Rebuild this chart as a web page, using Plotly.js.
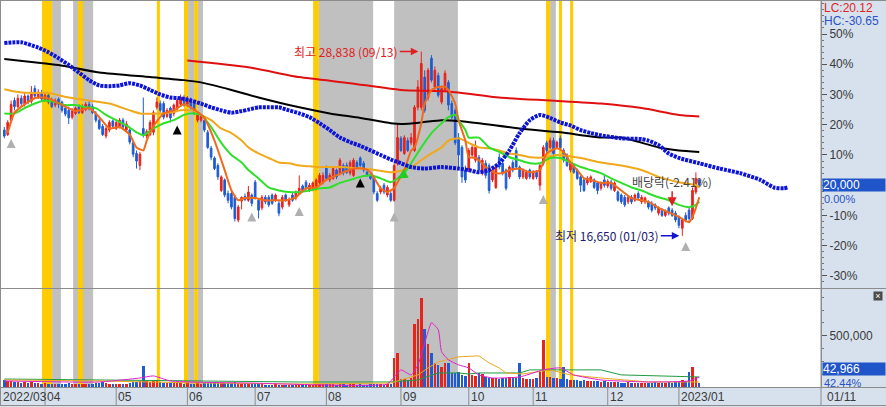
<!DOCTYPE html>
<html><head><meta charset="utf-8">
<script src="https://cdn.plot.ly/plotly-3.0.1.min.js"></script>
<style>html,body{margin:0;padding:0;background:#fff;}#chart{width:886px;height:407px;}</style>
</head><body><div id="chart"></div>
<script>
// ---- daily candles (index = trading day, 2022/03/16 .. 2023/01/10) ----
const openP = [
23650,23350,24300,25600,25200,25750,25350,25900,25550,26400,25800,26100,
25600,25950,25550,25300,25700,25500,25100,24950,24500,24750,25200,24800,25000,25350,25200,24750,24300,23900,23250,23650,24250,
23750,23900,24300,23650,23650,22800,22100,21300,23750,23250,23350,23500,25150,25400,25400,24550,25100,24750,25100,25350,25800,
25350,25700,25400,24300,24300,24300,23500,22450,21800,21300,19650,20350,19450,19450,19200,17700,18950,19250,19000,19350,
20200,19000,18500,19200,19200,19350,19000,18800,18550,19350,18700,19350,19150,19450,19950,20200,19650,19750,19800,20150,20200,
21200,20350,20450,21000,20800,21300,21300,20800,20650,21500,21800,21450,20850,20650,20550,19450,19550,20000,19350,19450,19000,21450,
23100,22100,22950,22800,22300,25150,25150,27150,25800,28400,26500,27250,25500,26300,26800,25400,24950,23150,22500,21000,
21000,22000,21650,21850,20800,21450,21300,20350,19850,21850,21450,21000,20550,21500,22300,21200,20550,20450,21000,
20450,20850,20000,21450,22800,22500,22950,22500,23100,22300,22000,21000,21300,21000,20550,20350,20150,20250,20350,20150,19800,20350,
19950,20200,19650,19550,19350,19200,18900,19200,19000,19450,18900,18900,18900,18800,18700,18150,18350,18000,18500,18350,18150,
17900,17150,18000,18350,17800,19550,20350];
const highP = [
23850,24300,25600,25800,26000,25950,26150,26000,26550,26600,26350,26300,
26100,26100,25800,25750,25800,25600,25300,25200,25100,25200,25350,25350,25500,25550,25350,24900,24450,24050,23900,24300,24350,
24300,24450,24450,24250,23750,22900,22300,22200,25800,23700,24300,24950,25800,25600,25550,25100,25200,25400,25750,26000,25950,
25900,25800,25600,24750,24700,24450,23650,22600,21900,21450,20650,20450,19650,19600,19350,18700,19250,19450,19950,19450,
20350,19150,19350,19350,19350,19450,19450,18950,19350,19450,19200,19550,19650,20650,20050,20350,20150,20250,20450,20800,20850,
21300,20800,21250,21100,21800,21450,21500,21650,21800,21650,21900,21600,21000,20800,20650,19600,19950,20150,20000,19600,21450,24100,
23250,23300,23150,23450,25300,26950,28838,27600,27750,28600,27850,27450,26600,27600,26950,25600,25100,23450,22650,21300,
22450,22650,22950,22000,21800,21650,21450,21100,21300,22100,21600,21100,21300,21650,22500,21300,21100,21000,21100,
21000,21000,21450,22650,22950,23150,23150,22950,23300,22450,22100,21600,21450,21100,20650,20450,20600,20650,20450,20250,20250,20650,
20400,20350,20250,19650,19450,19350,19350,19350,19450,19600,19350,19250,19000,18950,18800,18600,18500,18400,18600,18500,18300,
18000,17800,18200,18500,19850,20850,20450];
const lowP = [
23100,23250,24150,24950,25100,25200,25200,25350,25400,25750,25700,25550,
25500,25350,25100,25150,25100,24800,24550,24050,24350,24650,24700,24700,24900,24950,24700,24150,23650,23250,23100,23500,23750,
23650,23750,23700,23500,22700,21850,21100,21000,23150,23100,23250,23300,25000,24800,24350,24450,24150,24550,24950,25200,25200,
25200,25000,24650,24150,24150,23500,22400,21650,21000,20350,19550,19200,18800,18400,17600,17550,18400,18950,18900,18600,
19050,17800,18350,18750,18550,18700,18900,17950,18400,18900,18550,18900,19000,19350,19550,19650,19550,19600,19650,20000,20050,
20350,20200,20350,20400,20650,20650,20750,20650,20550,21050,21200,20850,20550,20350,19400,18900,19400,19400,19200,18900,18900,21300,
22200,22000,22200,22650,22200,24950,24950,24800,25600,26800,26300,25800,25350,26150,24950,24350,22650,21000,20150,20150,
20850,21850,21500,20850,20650,20450,19450,20200,19750,21050,20650,19650,20400,20850,21050,20400,20400,20350,20400,
20350,20400,19650,21300,22100,22400,21850,22400,22400,21500,21200,20850,20750,20350,19550,19550,20000,20150,19750,19400,19650,19850,
19800,19650,19550,18900,18750,18550,18750,18750,18900,19000,18750,18750,18400,18200,18350,18000,17900,17900,18000,17900,17550,
17150,16650,17550,17550,17700,19400,19850];
const closeP = [
23250,24150,25350,25200,25750,25400,25900,25550,26150,25900,26150,25700,
25950,25500,25200,25600,25350,24950,24700,24450,24900,25100,24800,25200,25350,25100,24800,24300,23750,23350,23750,24150,23900,
24150,24300,23850,24050,22850,22050,21600,22050,23350,23550,24150,24800,25500,24950,24500,24950,24450,25300,25600,25800,25350,
25700,25200,24750,24650,24550,23650,22500,21850,21100,20550,20550,19350,19000,18550,17800,18550,19200,19050,19550,18800,
19200,18350,19200,18900,18700,18800,19350,18150,19200,19000,19000,19000,19550,19800,19650,19800,20000,20150,20350,20650,20650,
20450,20650,21100,20550,21650,20800,20850,21500,21650,21200,21300,21000,20650,20450,19550,19000,19800,19550,19850,19000,21300,23150,
22300,23150,22300,23150,25150,26500,28050,24950,27600,26950,27600,25950,26400,27400,25300,24500,22800,22000,20550,20350,
22300,22500,22500,21000,21650,20650,19650,21000,21200,21200,20800,19800,21200,21000,21200,20550,21000,20850,20550,
20850,20550,21300,22500,22300,22950,22100,22850,22500,21650,21300,21450,20850,20450,20000,19650,20450,20550,19850,19650,20150,20000,
20250,19800,20150,19000,18900,18700,19200,18900,19350,19150,19200,19150,18550,18350,18500,18500,18000,18300,18150,18000,17700,
17350,17700,17700,17800,19650,20450,20000];
// volume in thousand shares
const volumeK = [
70,55,60,45,50,40,45,35,50,40,35,30,
35,30,28,32,30,25,30,35,28,25,30,25,30,28,30,35,40,45,35,30,28,
30,28,25,30,40,45,50,60,205,60,50,55,65,45,40,35,40,35,45,40,30,
35,30,30,35,30,35,40,40,45,40,35,40,35,40,45,35,30,28,25,25,
25,28,25,22,20,22,25,20,22,20,20,22,25,30,22,20,20,22,25,28,25,
30,25,28,22,30,25,22,25,28,22,25,22,20,25,30,28,25,22,25,30,284,333,
80,75,70,85,617,666,872,568,421,333,235,215,196,235,235,137,140,150,120,110,
235,120,110,137,130,100,90,88,85,80,85,90,95,100,90,235,85,80,75,
80,85,150,461,100,95,90,85,80,196,75,70,65,70,60,65,60,55,60,55,50,55,
50,48,45,45,42,40,45,40,38,40,42,38,35,40,45,42,40,38,45,40,50,
60,70,60,147,196,101,42.966];

// ---- month labels ----
const monthStart = [0,12,33,54,74,95,117,137,156,178,199];
const monthLabels = ['2022/03','04','05','06','07','08','09','10','11','12','2023/01'];
const basePrice = 20000;
const priceTickVals = [30000,28000,26000,24000,22000,18000,16000,14000];
const priceTickText = ['50%','40%','30%','20%','10%','-10%','-20%','-30%'];

// ---- moving averages: [day index, price] ----
const ma5 = [[1,23450],[3,24800],[6,25350],[9,25750],[12,25800],[15,25550],[18,25200],[21,24900],[25,25100],[28,24500],[31,23750],[34,23850],[37,23350],[39,22500],[41,22300],[42,22950],[44,23900],[47,24750],[50,24950],[53,25350],[56,25000],[59,24450],[62,22950],[65,21000],[67,19650],[69,19000],[71,19150],[74,19150],[77,19000],[80,19000],[83,19000],[86,19200],[89,19800],[92,19850],[95,20350],[98,20650],[100,20850],[103,21100],[106,21100],[108,20850],[111,19800],[113,19550],[115,19800],[116,20200],[118,21000],[120,22300],[121,22500],[123,24100],[124,25400],[126,26300],[128,26500],[130,26500],[131,26300],[133,25400],[134,24300],[136,22950],[137,21850],[139,21800],[140,21650],[142,21200],[145,20800],[147,20800],[149,21000],[152,21100],[155,20850],[158,21000],[160,22100],[163,22450],[165,22200],[167,21500],[169,21000],[171,20450],[173,20350],[176,20150],[179,20150],[182,19650],[185,19150],[188,19000],[190,18900],[193,18500],[196,18200],[199,17900],[202,17550],[203,17900],[204,18500],[205,19200]];
const ma20 = [[0,24750],[3,24750],[6,25100],[9,25400],[12,25600],[15,25500],[18,25300],[21,25300],[24,25150],[27,25100],[30,24650],[33,24300],[36,23950],[39,23500],[41,23300],[44,23750],[47,24100],[50,24300],[53,24650],[56,24750],[58,24650],[61,23850],[64,22800],[67,22000],[70,21500],[72,21000],[75,20450],[78,19850],[81,19650],[84,19550],[87,19550],[90,19650],[93,19800],[96,19850],[99,20150],[102,20350],[105,20550],[108,20650],[111,20450],[114,20200],[116,20450],[118,20800],[120,21450],[123,22500],[126,23450],[129,24100],[131,24500],[133,24650],[134,24300],[136,23650],[137,23150],[140,23150],[143,22500],[146,22200],[149,21850],[152,21650],[155,21450],[158,21450],[161,21800],[164,21800],[167,21500],[170,21200],[173,21000],[176,20800],[179,20450],[182,20150],[185,19850],[188,19650],[190,19450],[193,19200],[196,19000],[199,18700],[202,18550],[204,18700],[205,18900]];
const ma60 = [[0,26350],[3,26200],[8,26100],[13,26100],[19,25800],[25,25600],[31,25400],[37,24950],[40,24750],[46,24750],[49,24800],[52,24950],[55,24950],[58,24650],[61,24300],[64,23750],[67,23450],[70,22950],[72,22500],[75,22100],[78,21800],[81,21500],[84,21450],[87,21300],[90,21250],[93,21200],[99,21200],[105,21100],[108,21050],[111,20950],[114,20850],[117,20950],[120,21200],[123,21650],[126,22100],[129,22500],[131,22950],[134,23100],[137,22800],[140,22500],[143,22450],[146,22300],[149,22100],[152,22000],[155,21850],[160,21850],[163,22000],[170,21800],[176,21500],[182,21300],[188,21000],[193,20550],[199,20200],[204,20000],[205,19850]];
const ma120 = [[0,28350],[8,28150],[16,27950],[28,27450],[43,27150],[53,26950],[58,26800],[67,26300],[75,25800],[87,25150],[96,24750],[105,24450],[114,24100],[117,24050],[123,24150],[129,24300],[134,24250],[140,24100],[152,23750],[164,23500],[176,23150],[182,23150],[193,22500],[199,22300],[205,22200]];
const ma240 = [[54,28250],[72,27800],[87,27150],[102,26750],[117,26300],[131,26200],[146,25800],[161,25600],[176,25400],[188,25100],[199,24650],[205,24550]];
const leadLine = [[0,29400],[5,29450],[10,29100],[13,28800],[16,28400],[19,27950],[22,27450],[25,26950],[28,26600],[31,26550],[34,26600],[37,26750],[40,26600],[43,26300],[46,26000],[49,25800],[52,25750],[55,25600],[58,25400],[61,25150],[64,24950],[67,24800],[70,24900],[72,25000],[75,25150],[78,25150],[81,25150],[84,24950],[87,24750],[90,24500],[93,24100],[96,23650],[99,23150],[102,22850],[105,22600],[108,22300],[111,22000],[114,21700],[117,21450],[120,21200],[124,21100],[129,21200],[134,21100],[137,21000],[140,20850],[143,21000],[146,21450],[149,22300],[152,23450],[155,24300],[158,24650],[161,24450],[164,24150],[167,23950],[170,23650],[173,23450],[176,23300],[182,23100],[188,23050],[190,22950],[193,22650],[196,22100],[199,21800],[205,21450],[211,21100],[217,20800],[223,20350],[227,19850],[230,19800],[231,19850]];

// ---- volume moving averages: [day index, thousand shares] ----
const volMa5 = [[0,59],[28,49],[40,88],[44,108],[49,59],[72,39],[113,29],[115,98],[117,167],[120,118],[122,216],[125,539],[126,627],[128,559],[129,343],[131,265],[134,216],[137,186],[140,118],[144,88],[152,98],[159,167],[164,186],[168,118],[176,69],[190,49],[202,59],[205,98]];
const volMa20 = [[0,69],[28,59],[58,39],[87,29],[114,39],[122,118],[125,186],[128,245],[134,294],[140,304],[143,235],[146,186],[148,137],[153,127],[161,167],[167,118],[176,88],[190,49],[205,49]];
const volMa60 = [[0,78],[28,69],[58,59],[87,49],[114,49],[122,69],[128,137],[134,137],[137,127],[140,137],[152,137],[155,167],[176,167],[182,118],[205,98]];

// ---- highlighted periods [from day, to day] ----
const grayBands = [[14.1,16.7],[20.3,26.2],[54.2,56.0],[57.1,58.6],[92.8,108.8],[115.0,133.8],[161.0,162.7]];
const yellowBands = [[11.1,14.1],[21.7,23.2],[45.0,45.9],[53.0,54.2],[56.0,57.1],[91.1,92.8],[159.8,161.0],[163.6,164.5],[166.9,167.8]];

// ---- signal arrows [day index, price] ----
const sigGray = [[2,23050],[73,18200],[87,18550],[115,18200],[159,19350],[201,16250]];
const sigBlack = [[51,23950],[105,20450]];
const sigGreen = [[116,20450]];

const dayIdx = openP.map((_, i) => i);
const col = (a, k) => a.map(p => p[k]);
const RED = '#e8231a', BLUE = '#1f5cd2';
const F = 'Liberation Sans, Arial, sans-serif';
const KF = 'Noto Sans CJK KR, sans-serif';

const traces = [
  {type:'candlestick', x:dayIdx, open:openP, high:highP, low:lowP, close:closeP,
   increasing:{line:{color:RED,width:1}, fillcolor:RED},
   decreasing:{line:{color:BLUE,width:1}, fillcolor:BLUE},
   xaxis:'x', yaxis:'y'},
  {type:'scatter', mode:'lines', x:col(ma240,0), y:col(ma240,1), line:{color:'#e01010', width:2, shape:'spline', smoothing:0.6}},
  {type:'scatter', mode:'lines', x:col(ma120,0), y:col(ma120,1), line:{color:'#000000', width:2, shape:'spline', smoothing:0.6}},
  {type:'scatter', mode:'lines', x:col(ma60,0), y:col(ma60,1), line:{color:'#f0a81c', width:2, shape:'spline', smoothing:0.6}},
  {type:'scatter', mode:'lines', x:col(ma20,0), y:col(ma20,1), line:{color:'#2ee02a', width:2, shape:'spline', smoothing:0.6}},
  {type:'scatter', mode:'lines', x:col(ma5,0), y:col(ma5,1), line:{color:'#f06a1c', width:2, shape:'spline', smoothing:0.5}},
  {type:'scatter', mode:'lines', x:col(leadLine,0), y:col(leadLine,1), line:{color:'#0c14d8', width:4, dash:'3px,1px', shape:'spline', smoothing:0.6}},
  {type:'scatter', mode:'markers', x:col(sigGray,0), y:col(sigGray,1), marker:{symbol:'arrow-up', size:9, color:'#b0b0b0'}},
  {type:'scatter', mode:'markers', x:col(sigBlack,0), y:col(sigBlack,1), marker:{symbol:'arrow-up', size:9, color:'#000'}},
  {type:'scatter', mode:'markers', x:col(sigGreen,0), y:col(sigGreen,1), marker:{symbol:'arrow-up', size:10, color:'#22cc22', angle:-120}},
  {type:'bar', x:dayIdx, y:volumeK, width:0.72, xaxis:'x', yaxis:'y2',
   marker:{color:closeP.map((c,i) => c >= openP[i] ? RED : BLUE), line:{width:0}}},
  {type:'scatter', mode:'lines', x:col(volMa60,0), y:col(volMa60,1), yaxis:'y2', line:{color:'#1f9a40', width:1}},
  {type:'scatter', mode:'lines', x:col(volMa20,0), y:col(volMa20,1), yaxis:'y2', line:{color:'#e8a820', width:1}},
  {type:'scatter', mode:'lines', x:col(volMa5,0), y:col(volMa5,1), yaxis:'y2', line:{color:'#e020c8', width:1, shape:'spline', smoothing:0.5}}
];
traces.forEach(t => { t.showlegend = false; t.hoverinfo = 'skip'; });

const PH = 387, PW = 821;
const py = p => (PH - p) / PH;       // pixel row -> paper y
const priceDom = [py(288), 1];
const volDom = [0, py(288.5)];

const shapes = [];
grayBands.forEach(b => shapes.push({type:'rect', xref:'x', yref:'paper', x0:b[0], x1:b[1], y0:0, y1:1, fillcolor:'#c0c0c0', line:{width:0}, layer:'below'}));
yellowBands.forEach(b => shapes.push({type:'rect', xref:'x', yref:'paper', x0:b[0], x1:b[1], y0:0, y1:1, fillcolor:'#ffcc00', line:{width:0}, layer:'below'}));
const GL = '#8c8c8c';
shapes.push({type:'line', xref:'paper', yref:'paper', x0:0, x1:886/PW, y0:py(288.5), y1:py(288.5), line:{color:GL, width:1}});
shapes.push({type:'line', xref:'paper', yref:'paper', x0:0, x1:886/PW, y0:py(387.5), y1:py(387.5), line:{color:GL, width:1}});
shapes.push({type:'line', xref:'paper', yref:'paper', x0:0, x1:886/PW, y0:py(405.5), y1:py(405.5), line:{color:GL, width:1}});
shapes.push({type:'line', xref:'paper', yref:'paper', x0:0, x1:886/PW, y0:py(0.5), y1:py(0.5), line:{color:GL, width:1}});
shapes.push({type:'line', xref:'paper', yref:'paper', x0:0.5/PW, x1:0.5/PW, y0:py(405.5), y1:1, line:{color:GL, width:1}});
shapes.push({type:'line', xref:'paper', yref:'paper', x0:1, x1:1, y0:py(405.5), y1:1, line:{color:GL, width:1}});
monthStart.forEach((m, i) => { if (i > 0) shapes.push({type:'line', xref:'x', yref:'paper', x0:m, x1:m, y0:py(405.5), y1:py(387.5), line:{color:GL, width:1}}); });

const TXT = '#3a3a3a';
const annotations = [];
monthStart.forEach((m, i) => annotations.push({
  xref: i === 0 ? 'paper' : 'x', x: i === 0 ? 0 : m, yref:'paper', y:py(397), xanchor:'left', yanchor:'middle',
  xshift: i === 0 ? 1 : 0, text:monthLabels[i], showarrow:false, font:{family:F, size:12, color:TXT}}));
annotations.push({xref:'paper', x:1, yref:'paper', y:py(397), xanchor:'left', yanchor:'middle', xshift:4, text:'01/11', showarrow:false, font:{family:F, size:12, color:TXT}});
annotations.push({xref:'paper', x:1, yref:'paper', y:1, xanchor:'left', yanchor:'top', xshift:1, yshift:1, text:'LC:20.12', showarrow:false, font:{family:F, size:12, color:'#e02424'}});
annotations.push({xref:'paper', x:1, yref:'paper', y:1, xanchor:'left', yanchor:'top', xshift:1, yshift:-12, text:'HC:-30.65', showarrow:false, font:{family:F, size:12, color:'#2a52c4'}});
annotations.push({xref:'paper', x:1, yref:'y', y:basePrice, xanchor:'left', yanchor:'middle', xshift:1, text:'20,000', showarrow:false, width:62, height:12, align:'left', bgcolor:'#1f55c9', borderpad:0, font:{family:F, size:12, color:'#ffffff'}});
annotations.push({xref:'paper', x:1, yref:'y', y:basePrice, xanchor:'left', yanchor:'middle', xshift:2, yshift:-14, text:'0.00%', showarrow:false, borderpad:0, font:{family:F, size:11, color:'#2a52c4'}});
annotations.push({xref:'paper', x:1, yref:'paper', y:py(368.5), xanchor:'left', yanchor:'middle', xshift:1, text:'42,966', showarrow:false, width:62, height:12, align:'left', bgcolor:'#1f55c9', borderpad:0, font:{family:F, size:12, color:'#ffffff'}});
annotations.push({xref:'paper', x:1, yref:'paper', y:py(382.5), xanchor:'left', yanchor:'middle', xshift:2, text:'42.44%', showarrow:false, borderpad:0, font:{family:F, size:11, color:'#2a52c4'}});
annotations.push({xref:'paper', x:878/PW, yref:'paper', y:py(296), xanchor:'center', yanchor:'middle', text:'×', showarrow:false, width:8, height:8, bgcolor:'#4a4a4a', borderpad:0, font:{family:F, size:9, color:'#ffffff'}});
annotations.push({x:123, y:28838, xref:'x', yref:'y', text:'최고 28,838 (09/13)', showarrow:true, ax:-75, ay:0, arrowhead:2, arrowsize:1, arrowwidth:1.5, arrowcolor:'#e02020', standoff:3, font:{family:KF, size:12, color:'#e02020'}});
annotations.push({x:200, y:16650, xref:'x', yref:'y', text:'최저 16,650 (01/03)', showarrow:true, ax:-75, ay:0, arrowhead:2, arrowsize:1, arrowwidth:1.5, arrowcolor:'#1414d0', standoff:3, font:{family:KF, size:12, color:'#1a1a70'}});
annotations.push({x:197, y:18600, xref:'x', yref:'y', text:'배당락(-2.41%)', showarrow:true, ax:0, ay:-25, arrowhead:2, arrowsize:1.2, arrowwidth:1.5, arrowcolor:'#e02020', standoff:0, font:{family:KF, size:12, color:'#444444'}});

const layout = {
  width:886, height:407, autosize:false,
  margin:{l:0, r:65, t:0, b:20, pad:0},
  paper_bgcolor:'#d7e1ed', plot_bgcolor:'#ffffff',
  showlegend:false, hovermode:false, bargap:0,
  xaxis:{range:[-1.274, 240.91], anchor:'y2', showticklabels:false, ticks:'', showgrid:false, zeroline:false, showline:false, rangeslider:{visible:false}, fixedrange:true},
  yaxis:{domain:priceDom, range:[13200, 32250], side:'right', anchor:'x', tickmode:'array', tickvals:priceTickVals, ticktext:priceTickText,
         ticks:'outside', ticklen:5, tickcolor:'#555', showline:true, linecolor:GL, showgrid:false, zeroline:false,
         tickfont:{family:F, size:12, color:TXT}, fixedrange:true,
         minor:{tickmode:'linear', tick0:basePrice, dtick:400, ticks:'outside', ticklen:2, tickcolor:'#777', showgrid:false}},
  yaxis2:{domain:volDom, range:[0, 961], side:'right', anchor:'x', tickmode:'array', tickvals:[500], ticktext:['500,000'],
          ticks:'outside', ticklen:5, tickcolor:'#555', showline:true, linecolor:GL, showgrid:false, zeroline:false,
          tickfont:{family:F, size:12, color:TXT}, fixedrange:true,
          minor:{tickmode:'linear', tick0:0, dtick:125, ticks:'outside', ticklen:2, tickcolor:'#777', showgrid:false}},
  shapes:shapes, annotations:annotations
};
Plotly.newPlot('chart', traces, layout, {staticPlot:true, displayModeBar:false});
</script></body></html>
